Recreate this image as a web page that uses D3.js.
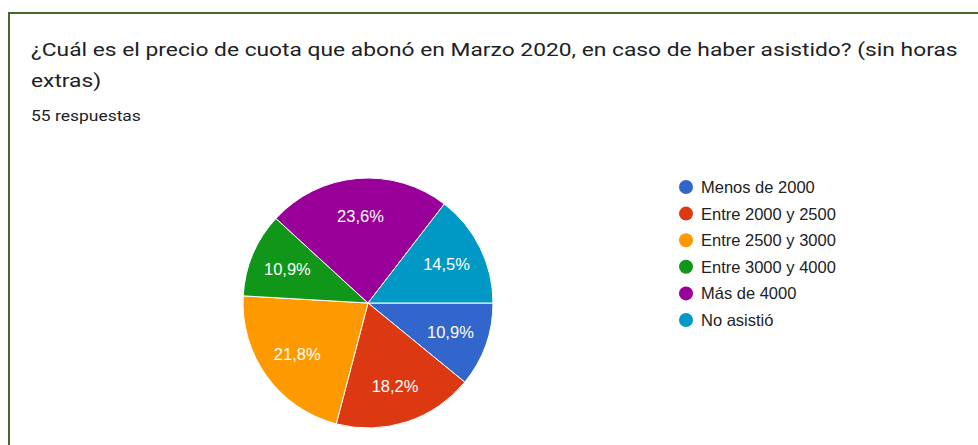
<!DOCTYPE html>
<html>
<head>
<meta charset="utf-8">
<script src="https://cdn.jsdelivr.net/npm/d3@7"></script>
<style>
  body { margin: 0; background: #fff; }
  .title { font-family: Roboto, sans-serif; font-size: 18.5px; fill: #202124; }
  .subTitle { font-family: Roboto, sans-serif; font-size: 15px; fill: #202124; }
  .legend { font-family: "Liberation Sans", Arial, sans-serif; font-size: 16.5px; fill: #222; }
  .sliceLabel { font-family: "Liberation Sans", Arial, sans-serif; font-size: 16.5px; fill: #fff; }
</style>
</head>
<body>
<div id="pie-chart"></div>
<script>
const width = 978;
const height = 445;

const titleLines = ["¿Cuál es el precio de cuota que abonó en Marzo 2020, en caso de haber asistido? (sin horas", "extras)"];
const subTitle = "55 respuestas";

// categories and counts (out of 55)
const categories = ["Menos de 2000", "Entre 2000 y 2500", "Entre 2500 y 3000", "Entre 3000 y 4000", "Más de 4000", "No asistió"];
const counts = [6, 10, 12, 6, 13, 8];
const percentLabels = ["10,9%", "18,2%", "21,8%", "10,9%", "23,6%", "14,5%"];
const colors = ["#3366cc", "#dc3912", "#ff9900", "#109618", "#990099", "#0099c6"];

const svg = d3.select("#pie-chart").append("svg")
   .attr("width", width)
   .attr("height", height);

// frame (only top and left edges visible)
svg.append("path")
   .attr("d", "M9," + height + " V13 H" + width)
   .attr("fill", "none")
   .attr("stroke", "#44692b")
   .attr("stroke-width", 2);

// title (the screenshot's font is wider than Roboto, so stretch to match)
const title = svg.append("text")
   .attr("class", "title")
   .attr("y", 56);
title.selectAll("tspan")
   .data(titleLines)
   .enter()
   .append("tspan")
   .attr("x", 0)
   .attr("dy", (d, i) => i == 0 ? 0 : 31)
   .text(d => d);
const titleLen = title.select("tspan").node().getComputedTextLength();
title.attr("transform", "translate(31,0) scale(" + (927 / titleLen) + ",1)");

const sub = svg.append("text")
   .attr("class", "subTitle")
   .attr("y", 121)
   .text(subTitle);
const subLen = sub.node().getComputedTextLength();
sub.attr("transform", "translate(31,0) scale(" + (110 / subLen) + ",1)");

// pie
const cx = 368, cy = 303, radius = 125;

const data = categories.map((c, i) => ({ name: c, value: counts[i], label: percentLabels[i], color: colors[i] }));

const pie = d3.pie()
   .value(d => d.value)
   .sort(null)
   .startAngle(Math.PI / 2)
   .endAngle(Math.PI / 2 + 2 * Math.PI);

const arc = d3.arc().innerRadius(0).outerRadius(radius);
const labelArc = d3.arc().innerRadius(radius * 0.7).outerRadius(radius * 0.7);

const g = svg.append("g").attr("transform", "translate(" + cx + "," + cy + ")");

const arcs = pie(data);

g.selectAll("path.slice")
   .data(arcs)
   .enter()
   .append("path")
   .attr("class", "slice")
   .attr("d", arc)
   .style("fill", d => d.data.color)
   .style("stroke", "#fff")
   .style("stroke-width", 1);

g.selectAll("text.sliceLabel")
   .data(arcs)
   .enter()
   .append("text")
   .attr("class", "sliceLabel")
   .attr("transform", d => "translate(" + labelArc.centroid(d) + ")")
   .attr("text-anchor", "middle")
   .attr("dy", "0.36em")
   .text(d => d.data.label);

// legend
const legendY = d3.scalePoint()
   .domain(categories)
   .range([187, 320]);

const legend = svg.append("g");

legend.selectAll("circle")
   .data(data)
   .enter()
   .append("circle")
   .attr("cx", 686)
   .attr("cy", d => legendY(d.name))
   .attr("r", 7)
   .style("fill", d => d.color);

legend.selectAll("text")
   .data(data)
   .enter()
   .append("text")
   .attr("class", "legend")
   .attr("x", 701)
   .attr("y", d => legendY(d.name))
   .attr("dy", "0.36em")
   .text(d => d.name);
</script>
</body>
</html>
